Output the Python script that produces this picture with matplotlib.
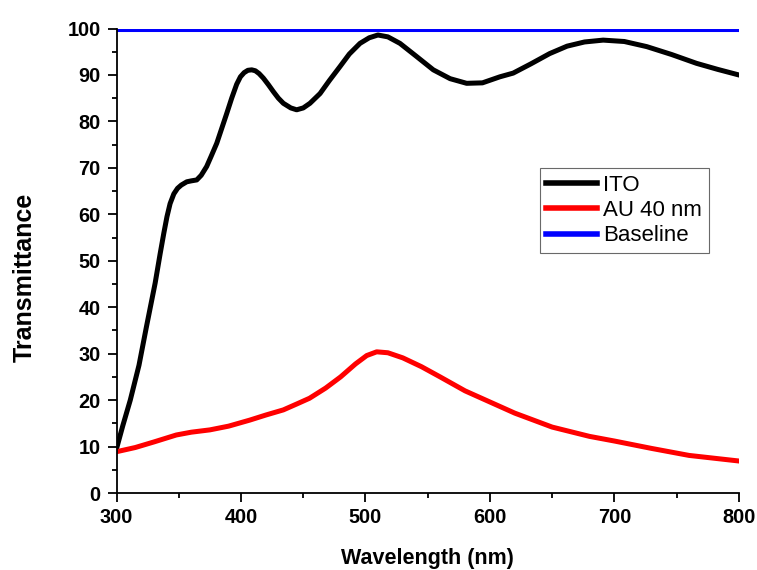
import matplotlib
matplotlib.use("Agg")
import matplotlib.pyplot as plt
from matplotlib.ticker import MultipleLocator

plt.rcParams['font.family'] = ['Liberation Sans', 'DejaVu Sans']

ito_x = [300, 305, 311, 318, 324, 331, 335, 338, 340.5, 343, 346, 349, 352, 356.4, 360, 364.4, 368, 372.4,
         376, 380.5, 384.5, 388.5, 392.5, 396.5, 399.5, 402.5, 405.5, 408.6, 411.5, 414.5, 418, 422, 426,
         430, 434, 440, 444.7, 450, 455.4, 463.5, 471, 479.5, 487, 495.6, 503, 510,
         518, 527.7, 540, 554.5, 568, 581.3, 594, 608, 618.7, 633, 648, 662, 676, 691, 708, 726, 746,
         766, 783, 800]
ito_y = [9.6, 14.5, 20.0, 27.5, 35.8, 45.2, 51.5, 56.0, 59.5, 62.3, 64.4, 65.6, 66.3, 67.0, 67.2, 67.4, 68.4, 70.3,
         72.5, 75.3, 78.5, 81.7, 85.0, 88.0, 89.6, 90.5, 91.0, 91.1, 90.9, 90.3, 89.3, 87.9, 86.4,
         85.0, 83.9, 82.9, 82.5, 82.9, 83.9, 86.0, 88.8, 91.8, 94.5, 96.8, 98.0, 98.6,
         98.2, 96.8, 94.2, 91.1, 89.2, 88.2, 88.3, 89.6, 90.4, 92.4, 94.6, 96.2, 97.1, 97.5, 97.2, 96.1, 94.4,
         92.5, 91.2, 90.0]

au_x = [300, 315, 330, 348, 360, 375, 390, 407, 420, 434, 445, 455, 468, 480, 492, 501, 509, 518, 530,
        545, 560, 580, 600, 620, 650, 680, 700, 730, 760, 800]
au_y = [8.9, 9.8, 11.0, 12.5, 13.1, 13.6, 14.4, 15.7, 16.8, 17.9, 19.2, 20.4, 22.6, 25.0, 27.8, 29.6, 30.4,
        30.2, 29.1, 27.2, 25.0, 22.0, 19.6, 17.2, 14.2, 12.2, 11.2, 9.6, 8.1, 6.9]

base_x = [300, 800]
base_y = [99.7, 99.7]

fig = plt.figure(figsize=(7.57, 5.70), dpi=100)
ax = fig.add_axes([0.154, 0.135, 0.822, 0.815])

ax.plot(ito_x, ito_y, color='black', lw=3.6, label='ITO', solid_joinstyle='round')
ax.plot(au_x, au_y, color='#ff0000', lw=3.6, label='AU 40 nm', solid_joinstyle='round')
ax.plot(base_x, base_y, color='#0000ff', lw=2.2, label='Baseline')

ax.set_xlim(300, 800)
ax.set_ylim(0, 100)
ax.xaxis.set_major_locator(MultipleLocator(100))
ax.xaxis.set_minor_locator(MultipleLocator(50))
ax.yaxis.set_major_locator(MultipleLocator(10))
ax.yaxis.set_minor_locator(MultipleLocator(5))

for s in ['top', 'right']:
    ax.spines[s].set_visible(False)
for s in ['left', 'bottom']:
    ax.spines[s].set_linewidth(1.3)

ax.tick_params(which='major', direction='out', length=6.5, width=1.3, labelsize=14.3)
ax.tick_params(which='minor', direction='out', length=3.8, width=1.3)
ax.tick_params(axis='x', which='major', pad=4.5)
ax.tick_params(axis='y', which='major', pad=5)
for lbl in ax.get_xticklabels() + ax.get_yticklabels():
    lbl.set_fontweight('bold')

ax.set_xlabel('Wavelength (nm)', fontsize=15.5, fontweight='bold')
ax.set_ylabel('Transmittance', fontsize=18, fontweight='bold')
ax.xaxis.set_label_coords(0.5, -0.118)
ax.yaxis.set_label_coords(-0.129, 0.465)

leg = ax.legend(loc='upper left', bbox_to_anchor=(0.68, 0.70), fontsize=16, frameon=True,
                fancybox=False, edgecolor='#444444', handlelength=2.27, handletextpad=0.3,
                borderpad=0.3, labelspacing=0.2, borderaxespad=0)
leg.get_frame().set_linewidth(0.8)
for h in leg.get_lines():
    h.set_linewidth(4)

fig.savefig('out.png', dpi=100)
